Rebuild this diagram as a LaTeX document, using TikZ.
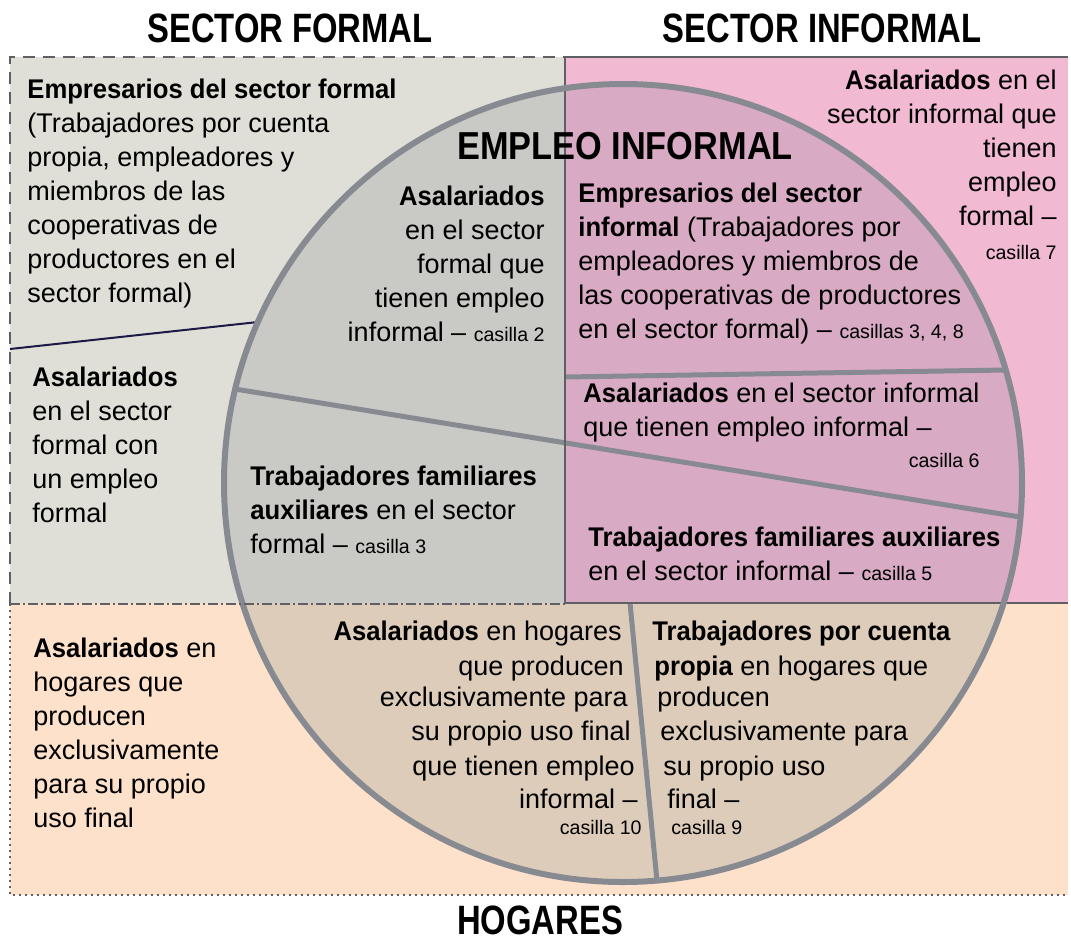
\documentclass[tikz,border=0pt]{standalone}
\usepackage{fontspec}
\setmainfont{Liberation Sans}[BoldFeatures={FakeStretch=0.95}]
\newfontfamily\headfont{Liberation Sans}[FakeStretch=0.8]
\newfontfamily\titlefont{Liberation Sans}[FakeStretch=0.88]
\newcommand\cas[1]{{\fontsize{9.8}{12}\selectfont #1}}
\definecolor{formalbg}{RGB}{223,223,215}
\definecolor{formalin}{RGB}{201,201,198}
\definecolor{informalbg}{RGB}{241,185,210}
\definecolor{informalin}{RGB}{216,170,196}
\definecolor{hogarbg}{RGB}{253,225,202}
\definecolor{hogarin}{RGB}{221,204,186}
\definecolor{circline}{RGB}{135,139,145}
\definecolor{borderdark}{RGB}{95,95,100}
\definecolor{navyline}{RGB}{30,25,70}
\tikzset{
  txt/.style={inner sep=0pt, font=\fontsize{13.5}{17}\selectfont},
  head/.style={inner sep=0pt, font=\headfont\bfseries\fontsize{20.5}{24}\selectfont},
  split/.style={draw=circline, line width=2.5pt},
}
\begin{document}
\begin{tikzpicture}[x=0.5pt,y=-0.5pt]
      \useasboundingbox (0,0) rectangle (1071,944);
      \fill[white] (0,0) rectangle (1071,944);
      \coordinate (c) at (623,483);
      \coordinate (dl) at (235,389);
      \coordinate (dr) at (1020,517);
      \coordinate (hl) at (565,377);
      \coordinate (hr) at (1006,370);
      \coordinate (vt) at (630,603);
      \coordinate (vb) at (657,881);
      \coordinate (nl) at (10,349);
      \coordinate (nr) at (258,322);

      \fill[formalbg] (10,57) rectangle (565,604);
      \fill[informalbg] (565,57) rectangle (1068,603);
      \fill[hogarbg] (10,603) rectangle (1068,895);
      \begin{scope}
        \clip (c) circle[radius=399];
        \fill[formalin] (10,57) rectangle (565,604);
        \fill[informalin] (565,57) rectangle (1068,603);
        \fill[hogarin] (10,603) rectangle (1068,895);
      \end{scope}
      \draw[navyline, line width=1pt] (nl) -- (nr);
      \draw[split] (dl) -- (dr);
      \draw[split] (hl) -- (hr);
      \draw[split] (vt) -- (vb);
      \draw[borderdark, line width=1.4pt] (1068,57) -- (565,57) -- (565,603) -- (1068,603);
      \draw[circline, line width=3pt] (c) circle[radius=399];
      \draw[borderdark, line width=1.2pt, dash pattern=on 6pt off 4pt] (10,604) -- (10,57) -- (565,57);
      \draw[borderdark, line width=1pt, dash pattern=on 5pt off 1.5pt on 1pt off 1.5pt] (10,604) -- (565,604);
      \draw[borderdark, line width=1pt, dotted] (10,604) -- (10,895) -- (1068,895);

      \node[head] (secform) at (290,28) {SECTOR FORMAL};
      \node[head] (secinf) at (822,28) {SECTOR INFORMAL};
      \node[head] (hog) at (540,920) {HOGARES};
      \node[inner sep=0pt, font=\titlefont\bfseries\fontsize{19.5}{22}\selectfont] (empinf) at (625,146) {EMPLEO INFORMAL};

      \node[txt, anchor=west, align=left] (empform) at (27,194) {\textbf{Empresarios del sector formal}\\(Trabajadores por cuenta\\propia, empleadores y\\miembros de las\\cooperativas de\\productores en el\\sector formal)};
      \node[txt, anchor=west, align=left] (asalform) at (32,445) {\textbf{Asalariados}\\en el sector\\formal con\\un empleo\\formal};
      \node[txt, anchor=east, align=right] (asalforminf) at (545,264) {\textbf{Asalariados}\\en el sector\\formal que\\tienen empleo\\informal -- \cas{casilla 2}};
      \node[txt, anchor=west, align=left] (empinfsec) at (578,264) {\textbf{Empresarios del sector}\\\textbf{informal} (Trabajadores por\\empleadores y miembros de\\las cooperativas de productores\\en el sector formal) -- \cas{casillas 3, 4, 8}};
      \node[txt, anchor=east, align=right] (asalinfform) at (1057,165) {\textbf{Asalariados} en el\\sector informal que\\tienen\\empleo\\formal --\\\cas{casilla 7}};
      \node[txt, anchor=west, align=left] (asalinfinf) at (583,413) {\textbf{Asalariados} en el sector informal\\que tienen empleo informal --};
      \node[txt, anchor=east] (cas6) at (980,460) {\cas{casilla 6}};
      \node[txt, anchor=west, align=left] (famform) at (250,510) {\textbf{Trabajadores familiares}\\\textbf{auxiliares} en el sector\\formal -- \cas{casilla 3}};
      \node[txt, anchor=west, align=left] (faminf) at (588,554) {\textbf{Trabajadores familiares auxiliares}\\en el sector informal -- \cas{casilla 5}};
      \node[txt, anchor=west, align=left] (asalhog) at (33,733) {\textbf{Asalariados} en\\hogares que\\producen\\exclusivamente\\para su propio\\uso final};

      \def \HogarAsal {
        622/640/{\textbf{Asalariados} en hogares},
        624/675/{que producen},
        628/706/{exclusivamente para},
        631/740/{su propio uso final},
        635/775/{que tienen empleo},
        638/808/{informal --},
        642/834/{\cas{casilla 10}}}
      \def \HogarCuenta {
        652/640/{\textbf{Trabajadores por cuenta}},
        654/675/{\textbf{propia} en hogares que},
        657/706/{producen},
        660/740/{exclusivamente para},
        663/775/{su propio uso},
        667/808/{final --},
        671/834/{\cas{casilla 9}}}

      \foreach \x / \y / \t in \HogarAsal {
        \node[txt, anchor=base east] (ha\y) at (\x, \y) {\t};
      }
      \foreach \x / \y / \t in \HogarCuenta {
        \node[txt, anchor=base west] (hc\y) at (\x, \y) {\t};
      }
    \end{tikzpicture}
\end{document}
